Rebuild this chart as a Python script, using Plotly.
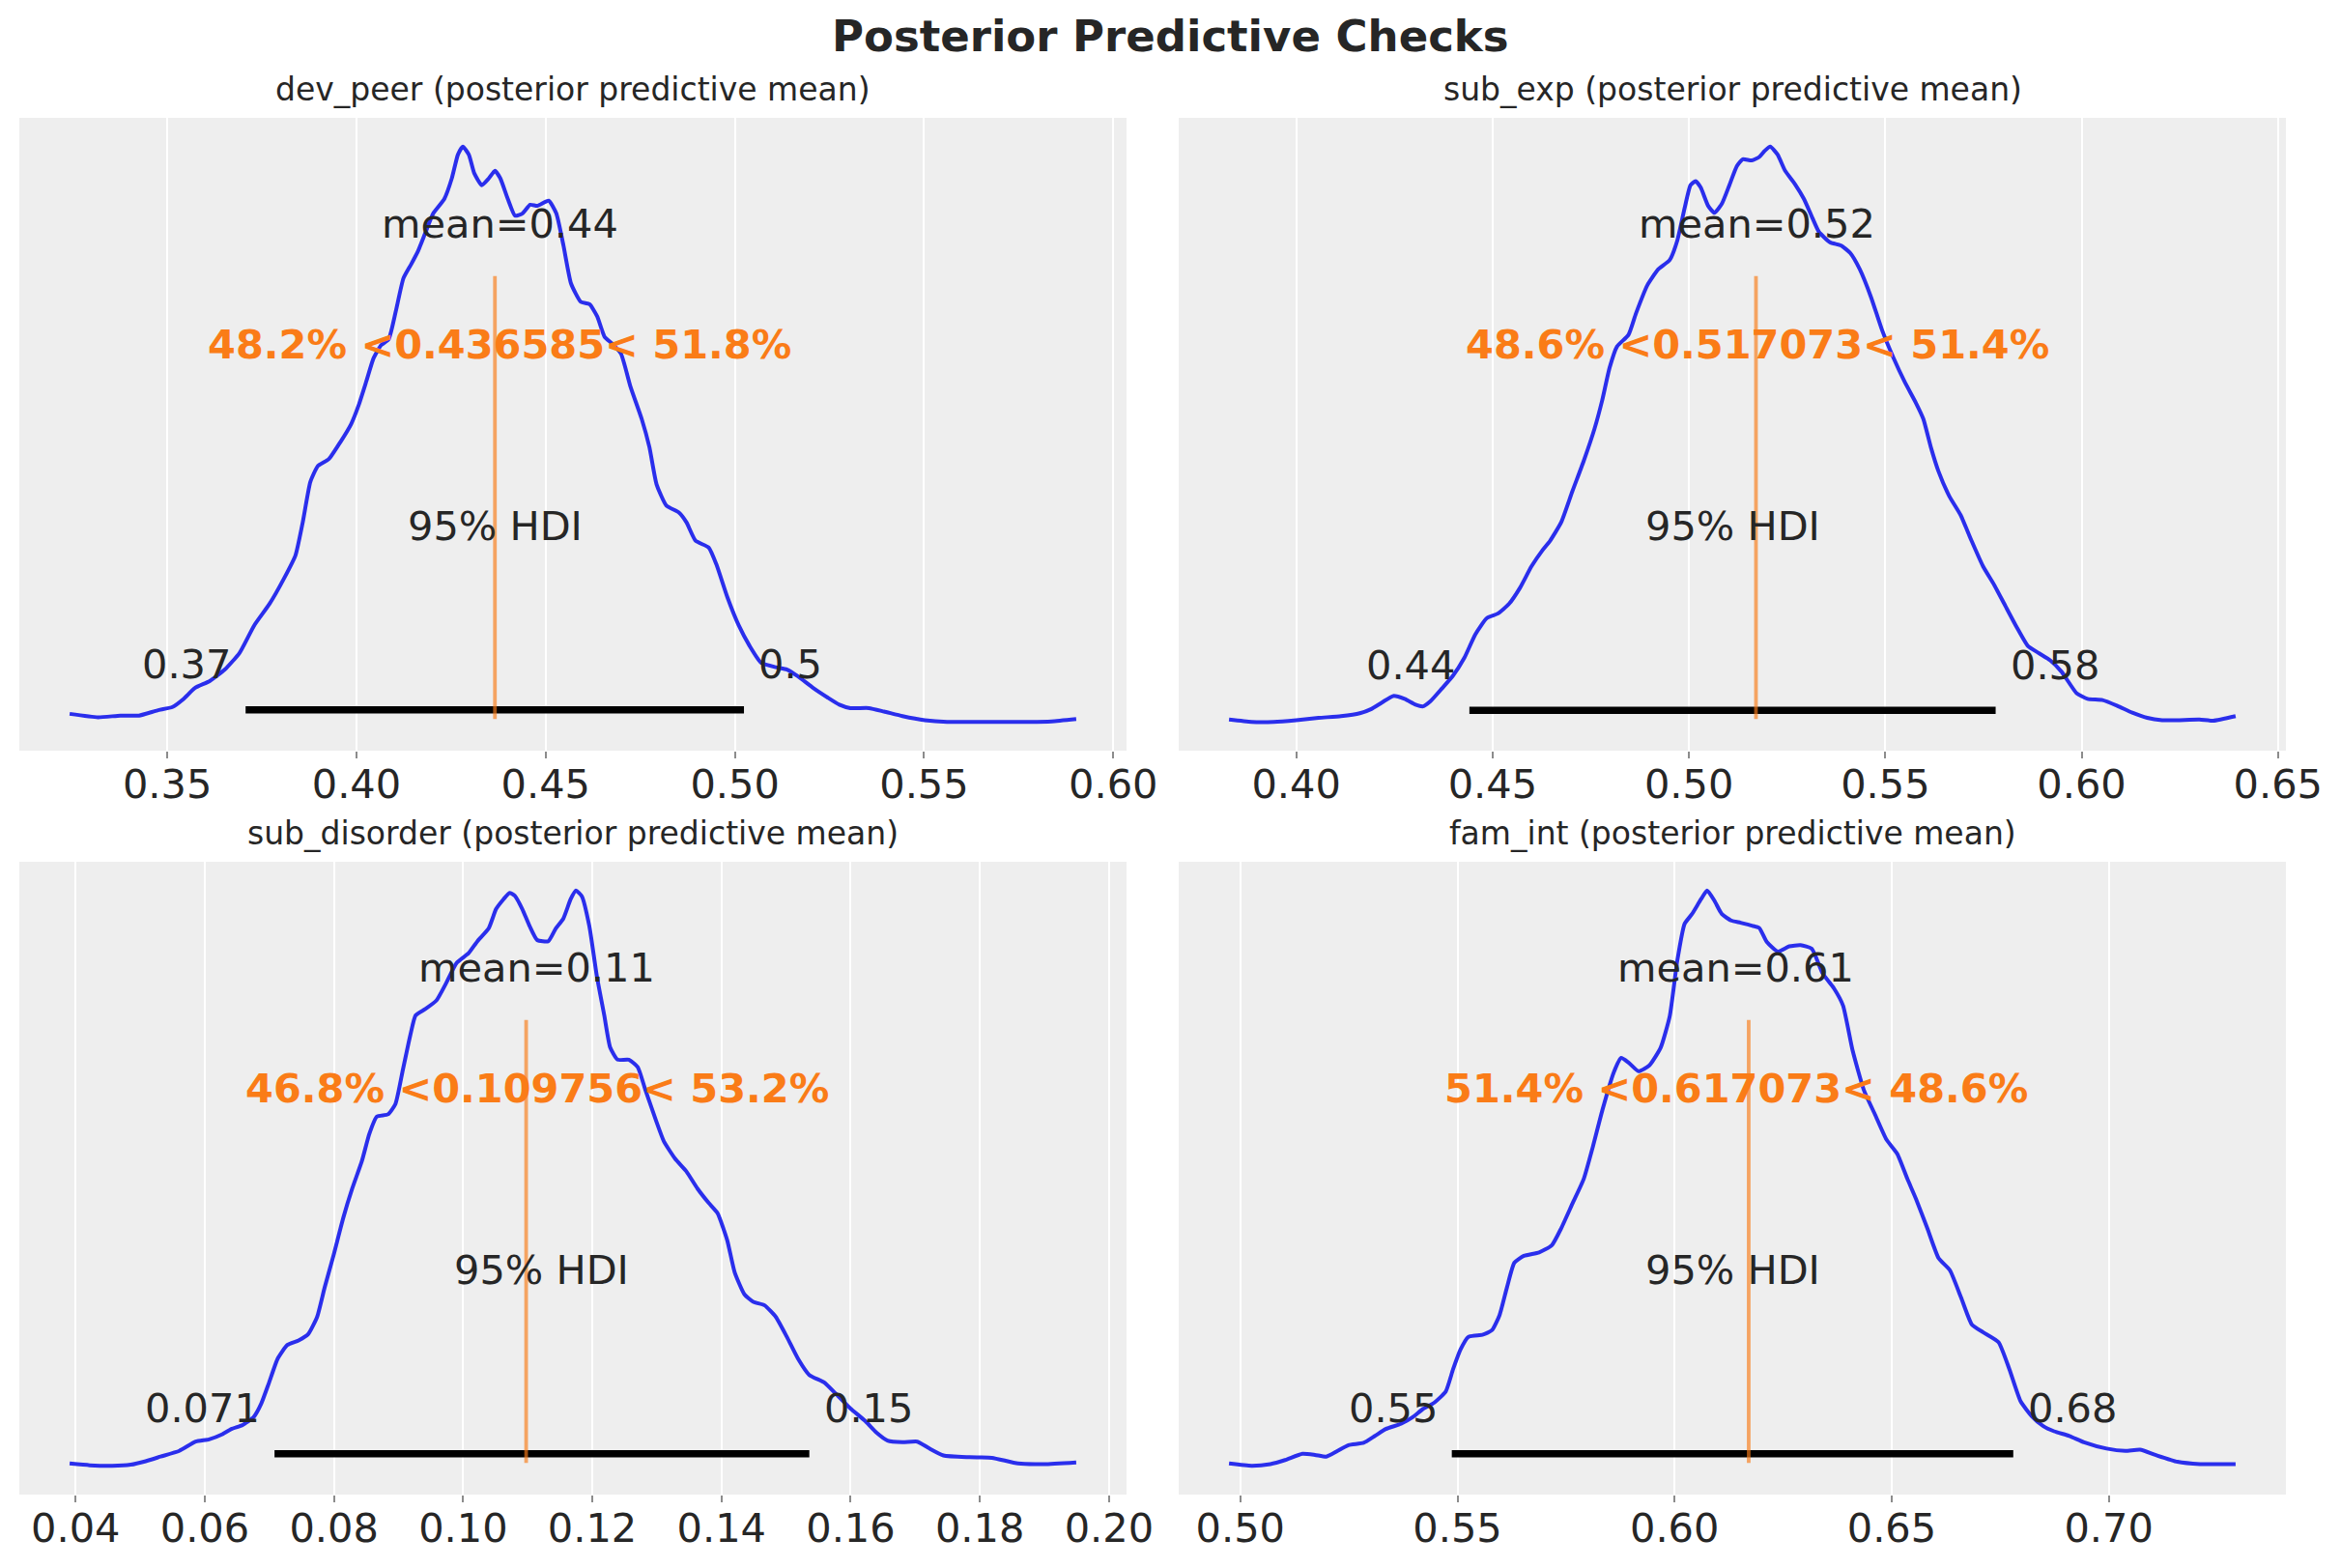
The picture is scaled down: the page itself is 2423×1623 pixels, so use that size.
import plotly.graph_objects as go

# ---------------- data ----------------
panel_names = ["dev_peer", "sub_exp", "sub_disorder", "fam_int"]

dev_peer_x = [0.3242, 0.3317, 0.3376, 0.3425, 0.3474, 0.3514, 0.3543, 0.3573, 0.3612, 0.3652,
              0.3691, 0.3730, 0.3770, 0.3809, 0.3839, 0.3858, 0.3878, 0.3898, 0.3927, 0.3957,
              0.3986, 0.4006, 0.4026, 0.4045, 0.4065, 0.4085, 0.4104, 0.4124, 0.4144, 0.4163,
              0.4183, 0.4203, 0.4232, 0.4252, 0.4268, 0.4281, 0.4297, 0.4311, 0.4331, 0.4350,
              0.4366, 0.4380, 0.4400, 0.4419, 0.4439, 0.4459, 0.4478, 0.4508, 0.4528, 0.4547,
              0.4567, 0.4593, 0.4616, 0.4636, 0.4656, 0.4675, 0.4699, 0.4724, 0.4754, 0.4774,
              0.4793, 0.4819, 0.4852, 0.4872, 0.4896, 0.4931, 0.4951, 0.4980, 0.5010, 0.5039,
              0.5069, 0.5108, 0.5138, 0.5167, 0.5207, 0.5246, 0.5276, 0.5305, 0.5354, 0.5394,
              0.5443, 0.5502, 0.5561, 0.5659, 0.5778, 0.5837, 0.5902]
dev_peer_density = [1.4, 0.8, 1.1, 1.1, 2.0, 2.6, 4.0, 5.9, 7.1, 9.1,
                    12.0, 16.8, 20.5, 25.0, 29.0, 34.7, 41.7, 44.5, 45.7, 48.6,
                    51.8, 55.1, 59.2, 63.2, 65.5, 66.5, 71.4, 77.1, 79.5, 81.9,
                    85.2, 88.4, 90.9, 94.5, 98.6, 100.0, 98.6, 95.4, 93.3, 94.5,
                    95.8, 94.5, 90.9, 88.0, 88.4, 89.9, 89.7, 90.6, 88.4, 82.8,
                    76.2, 73.0, 72.6, 70.5, 66.9, 65.8, 64.0, 58.3, 52.6, 47.8,
                    41.3, 37.6, 36.4, 34.7, 31.5, 30.3, 27.4, 21.7, 16.8, 13.2,
                    10.3, 9.5, 9.1, 7.9, 5.9, 4.2, 3.0, 2.4, 2.4, 1.8,
                    1.0, 0.3, 0.0, 0.0, 0.0, 0.1, 0.5]

sub_exp_x = [0.3829, 0.3886, 0.3943, 0.4000, 0.4057, 0.4114, 0.4162, 0.4190, 0.4219, 0.4247,
             0.4276, 0.4304, 0.4323, 0.4342, 0.4371, 0.4399, 0.4428, 0.4456, 0.4485, 0.4513,
             0.4542, 0.4570, 0.4599, 0.4627, 0.4646, 0.4675, 0.4703, 0.4732, 0.4760, 0.4779,
             0.4798, 0.4817, 0.4846, 0.4865, 0.4894, 0.4922, 0.4951, 0.4970, 0.4989, 0.5004,
             0.5017, 0.5030, 0.5049, 0.5065, 0.5084, 0.5103, 0.5122, 0.5137, 0.5160, 0.5179,
             0.5192, 0.5207, 0.5226, 0.5245, 0.5270, 0.5293, 0.5312, 0.5331, 0.5359, 0.5388,
             0.5411, 0.5435, 0.5464, 0.5492, 0.5521, 0.5549, 0.5578, 0.5597, 0.5616, 0.5635,
             0.5663, 0.5692, 0.5720, 0.5749, 0.5778, 0.5806, 0.5835, 0.5863, 0.5892, 0.5920,
             0.5949, 0.5987, 0.6015, 0.6053, 0.6091, 0.6129, 0.6167, 0.6205, 0.6243, 0.6300,
             0.6335, 0.6392]
sub_exp_density = [0.5, 0.1, 0.1, 0.4, 0.8, 1.1, 1.6, 2.3, 3.5, 4.6,
                   4.1, 3.1, 2.8, 3.7, 5.9, 8.1, 11.2, 15.3, 18.1, 18.9,
                   20.6, 23.4, 27.1, 29.9, 31.5, 34.8, 40.1, 45.4, 51.1, 55.9,
                   61.6, 65.3, 67.3, 71.0, 75.9, 78.7, 80.3, 83.6, 89.3, 93.3,
                   94.0, 92.9, 89.7, 88.5, 90.1, 93.3, 96.6, 97.8, 97.6, 98.2,
                   99.2, 100.0, 98.6, 95.8, 93.5, 90.9, 88.0, 85.2, 83.4, 82.8,
                   81.5, 78.7, 73.8, 68.1, 63.3, 59.2, 55.5, 52.7, 47.8, 43.7,
                   39.3, 36.0, 31.5, 27.1, 23.8, 20.2, 16.5, 13.3, 12.0, 10.8,
                   8.8, 5.1, 4.1, 3.9, 2.9, 1.7, 0.8, 0.4, 0.4, 0.5,
                   0.3, 1.1]

sub_disorder_x = [0.03908, 0.04219, 0.04566, 0.04854, 0.05085, 0.05316, 0.05605, 0.05859, 0.06066, 0.06274,
                  0.06413, 0.06586, 0.06759, 0.06874, 0.06990, 0.07128, 0.07278, 0.07452, 0.07602, 0.07740,
                  0.07856, 0.07994, 0.08144, 0.08283, 0.08433, 0.08548, 0.08664, 0.08837, 0.08952, 0.09068,
                  0.09183, 0.09264, 0.09414, 0.09587, 0.09737, 0.09899, 0.10084, 0.10222, 0.10395, 0.10511,
                  0.10626, 0.10719, 0.10800, 0.10915, 0.11030, 0.11146, 0.11319, 0.11434, 0.11550, 0.11665,
                  0.11746, 0.11838, 0.11954, 0.12069, 0.12185, 0.12277, 0.12392, 0.12566, 0.12704, 0.12820,
                  0.12993, 0.13108, 0.13281, 0.13455, 0.13628, 0.13801, 0.13939, 0.14089, 0.14205, 0.14355,
                  0.14493, 0.14667, 0.14840, 0.15013, 0.15186, 0.15359, 0.15590, 0.15763, 0.15994, 0.16225,
                  0.16398, 0.16571, 0.16802, 0.17033, 0.17206, 0.17437, 0.17841, 0.18187, 0.18592, 0.18996,
                  0.19492]
sub_disorder_density = [0.4, 0.1, 0.0, 0.2, 0.8, 1.6, 2.6, 4.2, 4.6, 5.5,
                        6.4, 7.1, 8.5, 10.8, 14.3, 18.6, 21.0, 21.8, 22.9, 25.9,
                        31.0, 36.6, 43.1, 48.2, 53.0, 57.7, 60.7, 61.1, 62.9, 68.9,
                        74.9, 78.3, 79.4, 80.9, 83.9, 87.4, 89.1, 91.2, 93.4, 96.8,
                        98.5, 99.6, 99.1, 96.8, 93.8, 91.4, 91.2, 93.4, 95.1, 98.5,
                        100.0, 99.0, 93.8, 85.2, 78.3, 72.7, 70.6, 70.6, 69.3, 65.4,
                        59.8, 56.4, 53.4, 51.2, 48.2, 45.7, 43.9, 39.2, 33.6, 29.8,
                        28.5, 27.9, 25.9, 22.4, 18.6, 15.8, 14.5, 12.6, 10.0, 7.8,
                        5.8, 4.4, 4.1, 4.2, 3.1, 1.8, 1.5, 1.4, 0.4, 0.3,
                        0.6]

fam_int_x = [0.4974, 0.5026, 0.5069, 0.5103, 0.5143, 0.5172, 0.5198, 0.5224, 0.5249, 0.5284,
             0.5310, 0.5335, 0.5370, 0.5396, 0.5421, 0.5447, 0.5473, 0.5490, 0.5507, 0.5525,
             0.5559, 0.5580, 0.5597, 0.5614, 0.5631, 0.5653, 0.5688, 0.5717, 0.5739, 0.5765,
             0.5791, 0.5812, 0.5834, 0.5860, 0.5877, 0.5894, 0.5917, 0.5942, 0.5968, 0.5989,
             0.6006, 0.6023, 0.6040, 0.6061, 0.6075, 0.6092, 0.6109, 0.6130, 0.6152, 0.6178,
             0.6195, 0.6212, 0.6238, 0.6264, 0.6290, 0.6316, 0.6341, 0.6367, 0.6388, 0.6410,
             0.6436, 0.6462, 0.6488, 0.6513, 0.6536, 0.6556, 0.6582, 0.6608, 0.6634, 0.6660,
             0.6685, 0.6711, 0.6746, 0.6771, 0.6797, 0.6823, 0.6849, 0.6874, 0.6909, 0.6943,
             0.6995, 0.7038, 0.7072, 0.7107, 0.7158, 0.7210, 0.7292]
fam_int_density = [0.4, 0.0, 0.3, 1.0, 2.1, 1.9, 1.6, 2.6, 3.6, 4.0,
                   5.2, 6.4, 7.3, 8.4, 9.9, 11.0, 12.9, 16.8, 20.2, 22.4,
                   22.8, 23.6, 26.2, 31.0, 35.3, 36.5, 37.1, 38.3, 41.3, 45.6,
                   49.9, 55.5, 61.9, 68.4, 70.9, 70.1, 68.6, 69.6, 72.7, 78.2,
                   87.7, 94.2, 95.9, 98.5, 100.0, 98.2, 95.9, 94.8, 94.4, 93.9,
                   93.5, 91.1, 89.4, 90.3, 90.5, 89.9, 85.6, 83.0, 80.0, 72.2,
                   65.3, 61.0, 56.7, 54.2, 49.9, 46.4, 41.3, 36.1, 34.0, 29.2,
                   24.5, 23.2, 21.5, 16.8, 11.2, 8.6, 6.9, 6.0, 5.2, 4.1,
                   3.0, 2.6, 2.8, 1.9, 0.7, 0.3, 0.3]

curve_x = [dev_peer_x, sub_exp_x, sub_disorder_x, fam_int_x]
curve_y = [dev_peer_density, sub_exp_density, sub_disorder_density, fam_int_density]

means = [0.4378, 0.5174, 0.1114, 0.6141]
mean_labels = ["0.44", "0.52", "0.11", "0.61"]
ref_vals = [0.436585, 0.517073, 0.109756, 0.617073]
ref_labels = ["0.436585", "0.517073", "0.109756", "0.617073"]
pct_below = ["48.2", "48.6", "46.8", "51.4"]
pct_above = ["51.8", "51.4", "53.2", "48.6"]
hdi_low = [0.3707, 0.4441, 0.0708, 0.5487]
hdi_high = [0.5024, 0.5781, 0.1536, 0.6780]
hdi_low_labels = ["0.37", "0.44", "0.071", "0.55"]
hdi_high_labels = ["0.5", "0.58", "0.15", "0.68"]
hdi_prob_label = "95% HDI"

tick_vals = [[0.35, 0.40, 0.45, 0.50, 0.55, 0.60],
             [0.40, 0.45, 0.50, 0.55, 0.60, 0.65],
             [0.04, 0.06, 0.08, 0.10, 0.12, 0.14, 0.16, 0.18, 0.20],
             [0.50, 0.55, 0.60, 0.65, 0.70]]
tick_text = [["0.35", "0.40", "0.45", "0.50", "0.55", "0.60"],
             ["0.40", "0.45", "0.50", "0.55", "0.60", "0.65"],
             ["0.04", "0.06", "0.08", "0.10", "0.12", "0.14", "0.16", "0.18", "0.20"],
             ["0.50", "0.55", "0.60", "0.65", "0.70"]]

main_title = "Posterior Predictive Checks"

# ---------------- styling / layout ----------------
OFF = 8  # default page body margin in the browser
W, H = 2423 - OFF, 1623 - OFF
ML, MT = 20 - OFF, 122 - OFF
MR = W - (2366 - OFF)
MB = H - (1547 - OFF)
PW = W - ML - MR
PH = H - MT - MB
FONT = "DejaVu Sans"
TXT = "#262626"
BLUE = "#2a2eec"
ORANGE = "#fa7c17"
FS = 41.5

x_domains = [[0, (1166 - 20) / PW], [(1220 - 20) / PW, 1],
             [0, (1166 - 20) / PW], [(1220 - 20) / PW, 1]]
top_dom = [1 - (777 - 122) / PH, 1]
bot_dom = [0, (1547 - 892) / PH]
y_domains = [top_dom, top_dom, bot_dom, bot_dom]

fig = go.Figure()
annotations = []

for i in range(4):
    xa = "x" if i == 0 else f"x{i+1}"
    ya = "y" if i == 0 else f"y{i+1}"
    xs, ys = curve_x[i], curve_y[i]

    xmin, xmax = min(xs), max(xs)
    xr = [xmin - 0.05 * (xmax - xmin), xmax + 0.05 * (xmax - xmin)]
    ymin, ymax = min(ys), max(ys)
    yr = [ymin - 0.05 * (ymax - ymin), ymax + 0.05 * (ymax - ymin)]
    ph = yr[1]

    # density curve
    fig.add_trace(go.Scatter(x=xs, y=ys, mode="lines", xaxis=xa, yaxis=ya,
                             line=dict(color=BLUE, width=4, shape="spline", smoothing=0.5),
                             hoverinfo="skip", showlegend=False))
    # HDI bar
    fig.add_trace(go.Scatter(x=[hdi_low[i], hdi_high[i]], y=[ph * 0.02, ph * 0.02],
                             mode="lines", xaxis=xa, yaxis=ya,
                             line=dict(color="black", width=7.5),
                             hoverinfo="skip", showlegend=False))
    # reference line (axes fraction 0.05 .. 0.75)
    y0 = yr[0] + 0.05 * (yr[1] - yr[0])
    y1 = yr[0] + 0.75 * (yr[1] - yr[0])
    fig.add_trace(go.Scatter(x=[ref_vals[i], ref_vals[i]], y=[y0, y1],
                             mode="lines", xaxis=xa, yaxis=ya, opacity=0.65,
                             line=dict(color=ORANGE, width=3.8),
                             hoverinfo="skip", showlegend=False))

    def txt(x, y, text, anchor="center", color=TXT, shift=0, bold=False, size=FS):
        annotations.append(dict(
            x=x, y=y, xref=xa, yref=ya, text=f"<b>{text}</b>" if bold else text,
            showarrow=False, xanchor=anchor, yanchor="bottom", yshift=-11, xshift=shift,
            font=dict(family=FONT, size=size, color=color)))

    txt(means[i], ph * 0.8, f"mean={mean_labels[i]}")
    txt(means[i], ph * 0.6, f"{pct_below[i]}% &lt;{ref_labels[i]}&lt; {pct_above[i]}%",
        color=ORANGE, bold=True)
    txt((hdi_low[i] + hdi_high[i]) / 2, ph * 0.3, hdi_prob_label)
    txt(hdi_low[i], ph * 0.07, hdi_low_labels[i], anchor="right", shift=-13)
    txt(hdi_high[i], ph * 0.07, hdi_high_labels[i], anchor="left", shift=13)

    # subplot title
    annotations.append(dict(
        x=0.5, y=1, xref=f"{xa} domain", yref=f"{ya} domain",
        text=f"{panel_names[i]} (posterior predictive mean)", showarrow=False,
        xanchor="center", yanchor="bottom", yshift=8,
        font=dict(family=FONT, size=33, color=TXT)))

    axis_key = "xaxis" if i == 0 else f"xaxis{i+1}"
    yaxis_key = "yaxis" if i == 0 else f"yaxis{i+1}"
    fig.update_layout({
        axis_key: dict(domain=x_domains[i], anchor=ya, range=xr,
                       tickvals=tick_vals[i], ticktext=tick_text[i],
                       showgrid=True, gridcolor="white", gridwidth=2.2,
                       zeroline=False, showline=False,
                       ticks="outside", ticklen=7, tickwidth=2, tickcolor="#8c8c8c",
                       ticklabelstandoff=-9,
                       tickfont=dict(family=FONT, size=FS, color=TXT)),
        yaxis_key: dict(domain=y_domains[i], anchor=xa, range=yr,
                        showgrid=False, zeroline=False, showline=False,
                        showticklabels=False, ticks=""),
    })

annotations.append(dict(
    x=0.5, y=1, xref="paper", yref="paper", text=f"<b>{main_title}</b>",
    showarrow=False, xanchor="center", yanchor="bottom", xshift=18, yshift=56,
    font=dict(family=FONT, size=45, color=TXT)))

fig.update_layout(
    width=W, height=H,
    margin=dict(l=ML, r=MR, t=MT, b=MB, pad=0),
    paper_bgcolor="white", plot_bgcolor="#eeeeee",
    font=dict(family=FONT, color=TXT),
    annotations=annotations,
    showlegend=False,
)

fig.write_html("out.html")
